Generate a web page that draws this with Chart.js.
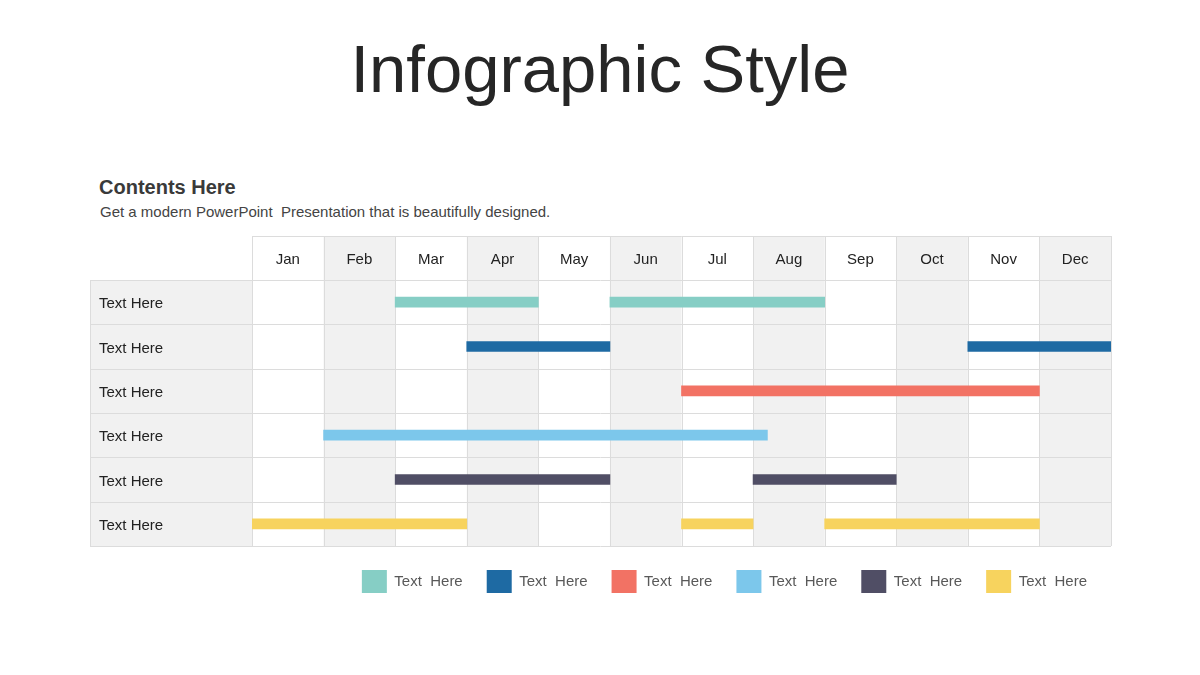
<!DOCTYPE html>
<html>
<head>
<meta charset="utf-8">
<script src="https://cdn.jsdelivr.net/npm/chart.js@4"></script>
<style>
  body { margin:0; background:#fff; font-family:"Liberation Sans", Arial, sans-serif; }
  #wrap { position:relative; width:1200px; height:675px; overflow:hidden; }
  #titulo { position:absolute; top:30px; left:0; width:1200px; text-align:center; font-size:67px; color:#262626; }
  #sub1 { position:absolute; top:176px; left:99px; font-size:20px; font-weight:bold; color:#3a3a3a; }
  #sub2 { position:absolute; top:203px; left:100px; font-size:15px; color:#444; white-space:pre; }
  #myChart { position:absolute; top:0; left:0; }
</style>
</head>
<body>
<div id="wrap">
  <div id="titulo">Infographic Style</div>
  <div id="sub1">Contents Here</div>
  <div id="sub2">Get a modern PowerPoint  Presentation that is beautifully designed.</div>
  <canvas id="myChart" width="1200" height="675"></canvas>
</div>
<script>
// meses (0 = inicio de Jan, 12 = fin de Dec)
const meses = ['Jan','Feb','Mar','Apr','May','Jun','Jul','Aug','Sep','Oct','Nov','Dec'];
const filas = ['f1','f2','f3','f4','f5','f6'];
const nombresFilas = ['Text Here','Text Here','Text Here','Text Here','Text Here','Text Here'];
const leyenda = ['Text  Here','Text  Here','Text  Here','Text  Here','Text  Here','Text  Here'];
const colores = ['#86cec5','#1e6aa3','#f27264','#7cc7eb','#504e65','#f7d35e'];

// tramos [inicio, fin] de cada serie
const serie1 = [[2,4],[5,8]];
const serie2 = [[3,5],[10,12]];
const serie3 = [[6,11]];
const serie4 = [[1,7.2]];
const serie5 = [[2,5],[7,9]];
const serie6 = [[0,3],[6,7],[8,11]];
const series = [serie1, serie2, serie3, serie4, serie5, serie6];

const sombreados = [1,3,5,7,9,11];

const datasets = series.map(function(s, i){
    return {
        label: leyenda[i],
        backgroundColor: colores[i],
        borderWidth: 0,
        barThickness: 10,
        grouped: false,
        data: s.map(function(t){ return {x: t, y: filas[i]}; })
    };
});

// fondo y lineas de la tabla (antes de dibujar ejes y barras)
const tabla = {
    id: 'tabla',
    beforeDraw(chart){
        const ctx = chart.ctx;
        const xs = chart.scales.x;
        const ys = chart.scales.y;
        const top = chart.scales.x2.top;
        const area = chart.chartArea;
        const izq = ys.left - 9;
        const filaH = (area.bottom - area.top) / filas.length;
        ctx.save();
        // columna de nombres
        ctx.fillStyle = '#f1f1f1';
        ctx.fillRect(izq, area.top, area.left - izq, area.bottom - area.top);
        sombreados.forEach(function(m){
            const a = xs.getPixelForValue(m);
            const b = xs.getPixelForValue(m+1);
            ctx.fillRect(a, top, b - a, area.bottom - top);
        });
        ctx.strokeStyle = '#dcdcdc';
        ctx.lineWidth = 1;
        ctx.beginPath();
        for (let m=0; m<=12; m++){
            const x = Math.round(xs.getPixelForValue(m)) + 0.5;
            ctx.moveTo(x, top); ctx.lineTo(x, area.bottom);
        }
        ctx.moveTo(area.left, Math.round(top)+0.5);
        ctx.lineTo(area.right, Math.round(top)+0.5);
        for (let r=0; r<=filas.length; r++){
            const y = Math.round(area.top + r*filaH) + 0.5;
            ctx.moveTo(izq, y); ctx.lineTo(area.right, y);
        }
        ctx.moveTo(Math.round(izq)+0.5, area.top);
        ctx.lineTo(Math.round(izq)+0.5, area.bottom);
        ctx.stroke();
        ctx.restore();
    }
};

let grafico = new Chart(document.getElementById('myChart'), {
    type: 'bar',
    data: { labels: filas, datasets: datasets },
    plugins: [tabla],
    options: {
        indexAxis: 'y',
        responsive: false,
        animation: false,
        layout: { padding: { top: 236, left: 99, right: 89, bottom: 72 } },
        scales: {
            x: {
                type: 'linear', min: 0, max: 12, display: false
            },
            x2: {
                type: 'category', labels: meses, position: 'top', offset: true,
                grid: { display: false, drawTicks: false }, border: { display: false },
                ticks: { color: '#222', font: { size: 15, family: 'Liberation Sans' }, padding: 11, maxRotation: 0, autoSkip: false },
                afterFit: function(s){ s.height = 44; }
            },
            y: {
                type: 'category', labels: filas,
                grid: { display: false, drawTicks: false }, border: { display: false },
                ticks: {
                    crossAlign: 'far', padding: 0, color: '#222', autoSkip: false, labelOffset: 2,
                    font: { size: 15, family: 'Liberation Sans' },
                    callback: function(v, i){ return nombresFilas[i]; }
                },
                afterFit: function(s){ s.width = 153; }
            }
        },
        plugins: {
            tooltip: { enabled: false },
            legend: {
                position: 'bottom', align: 'end',
                labels: {
                    boxWidth: 25, boxHeight: 23, padding: 24, color: '#595959',
                    font: { size: 15, family: 'Liberation Sans' }
                }
            }
        }
    }
});
</script>
</body>
</html>
